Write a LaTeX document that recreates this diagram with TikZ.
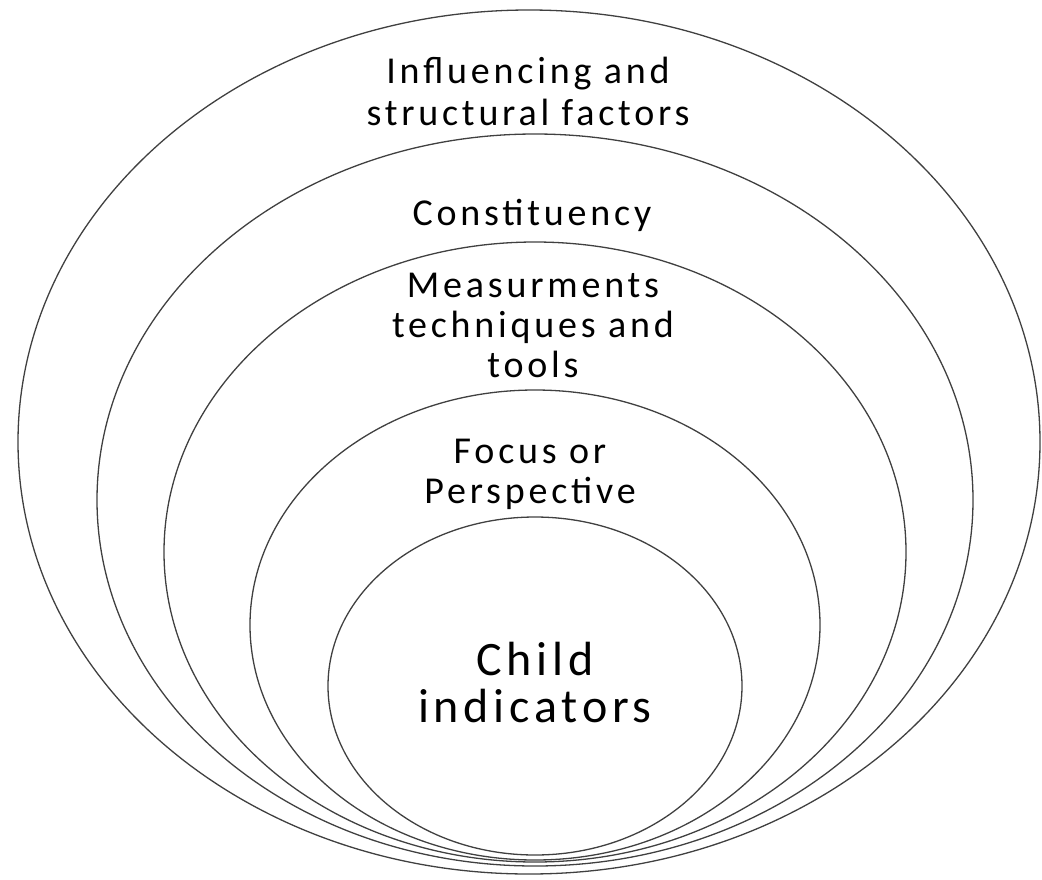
\documentclass[tikz,border=0pt]{standalone}
\usepackage{fontspec}
\setmainfont{Carlito}[LetterSpace=10]
\usepackage{tikz}

\tikzset{
  ring/.style={draw=black!75, line width=1.3pt},
  label/.style={align=center, font=\fontsize{38}{40}\selectfont, inner sep=0pt},
}

\begin{document}
\begin{tikzpicture}[x=1pt, y=-1pt]
        \useasboundingbox (0,0) rectangle (1042,879);
        % rings, outside to inside
        \foreach \cx/\cy/\rx/\ry in {529/442/511/432, 535/500/438/366, 535/552/371/310, 535/625/285/235, 535/686/207/169}{
            \draw[ring] (\cx,\cy) ellipse [x radius=\rx, y radius=\ry];
        }
        % base = baseline of the last line
        \node[label, anchor=base, font=\fontsize{38}{42}\selectfont] (influence) at (528,125) {Influencing and\\structural factors};
        \node[label, anchor=base] (constituency) at (532,225) {Constituency};
        \node[label, anchor=base] (measure) at (533,377) {Measurments\\techniques and\\tools};
        \node[label, anchor=base] (focus) at (530,503) {Focus or\\Perspective};
        \node[label, anchor=base, font=\fontsize{48}{47}\selectfont] (child) at (535,722) {Child\\indicators};
    \end{tikzpicture}
\end{document}
